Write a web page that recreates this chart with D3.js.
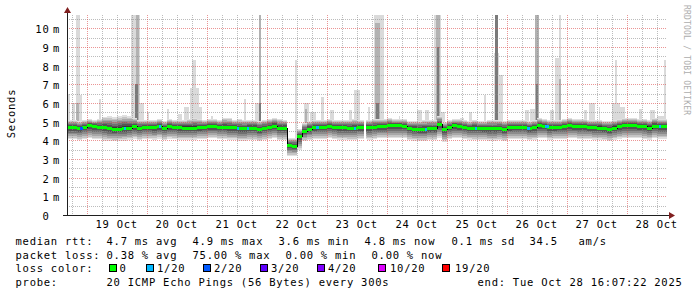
<!DOCTYPE html>
<html>
<head>
<meta charset="utf-8">
<script src="https://cdn.jsdelivr.net/npm/d3@7"></script>
<style>
  body { margin: 0; background: #fff; }
  svg text { font-family: "DejaVu Sans Mono", monospace; font-size: 10.5px; letter-spacing: 0.75px; fill: #000; }
</style>
</head>
<body>
<svg id="chart" width="697" height="297"></svg>
<script>
// time window: 10 days ending Tue Oct 28 16:07:22 2025, 2h buckets
const start = Date.UTC(2025, 9, 18, 16, 7, 22);
const spanHours = 240;
const bucketHours = 2;

// median rtt per bucket (ms)
const median = [
  4.69,4.69,4.64,4.72,4.80,4.75,4.72,4.70,4.64,4.60,4.62,4.66,4.68,4.76,4.66,4.72,4.72,4.72,4.78,4.66,4.76,4.72,4.70,4.68,4.68,4.68,4.70,4.72,4.76,4.76,
  4.72,4.72,4.69,4.69,4.64,4.64,4.67,4.67,4.60,4.66,4.72,4.78,4.67,4.67,3.74,3.72,4.25,4.50,4.62,4.70,4.72,4.72,4.78,4.72,4.69,4.69,4.66,4.66,4.70,4.70,
  4.69,4.72,4.74,4.74,4.80,4.80,4.80,4.78,4.66,4.62,4.60,4.60,4.64,4.64,4.88,4.58,4.72,4.80,4.76,4.72,4.68,4.67,4.66,4.64,4.64,4.64,4.66,4.60,4.70,4.72,
  4.72,4.72,4.64,4.69,4.80,4.78,4.69,4.70,4.72,4.74,4.80,4.76,4.74,4.74,4.70,4.69,4.68,4.64,4.60,4.68,4.76,4.80,4.80,4.80,4.76,4.74,4.68,4.78,4.76,4.76
];
// lowest / highest ping of the smoke per bucket (ms)
const smokeLo = [
  4.05,4.05,4.0,4.05,4.1,4.05,4.05,3.95,3.95,3.95,3.95,3.95,4.0,4.05,4.0,4.05,4.05,4.0,4.05,4.0,4.05,4.05,4.0,4.0,4.0,4.0,4.05,4.05,4.1,4.1,
  4.05,4.05,4.0,4.0,3.95,3.95,4.0,4.0,3.95,4.0,4.05,4.1,4.0,4.0,3.15,3.15,3.5,3.95,4.0,4.05,4.05,4.05,4.1,4.05,4.0,4.0,4.0,4.0,4.05,4.05,
  4.0,4.05,4.1,4.1,4.1,4.1,4.1,4.1,4.0,3.95,3.95,3.95,4.0,4.0,4.1,3.9,4.05,4.1,4.1,4.05,4.0,4.0,4.0,4.0,3.95,3.95,4.0,3.95,4.05,4.05,
  4.05,4.05,4.0,4.0,4.1,4.1,4.0,4.05,4.05,4.05,4.1,4.1,4.05,4.05,4.05,4.0,4.0,4.0,3.95,4.0,4.05,4.1,4.1,4.1,4.1,4.05,4.0,4.1,4.05,4.05
];
const smokeHi = [
  5.1,5.1,5.05,5.1,5.15,5.1,5.15,5.25,5.3,5.25,5.3,5.35,5.3,5.2,5.1,5.1,5.1,5.1,5.15,5.05,5.15,5.1,5.1,5.1,5.15,5.2,5.15,5.1,5.15,5.15,
  5.1,5.2,5.2,5.1,5.15,5.1,5.1,5.1,5.05,5.1,5.15,5.2,5.15,5.1,4.1,4.1,4.6,4.95,5.05,5.1,5.1,5.1,5.15,5.1,5.1,5.1,5.1,5.15,5.1,5.1,
  5.1,5.15,5.15,5.15,5.2,5.15,5.15,5.15,5.05,5.05,5.05,5.1,5.1,5.1,5.3,5.0,5.1,5.15,5.15,5.1,5.05,5.1,5.05,5.05,5.1,5.1,5.1,5.05,5.1,5.1,
  5.1,5.1,5.05,5.1,5.2,5.15,5.1,5.1,5.1,5.15,5.2,5.15,5.15,5.15,5.1,5.1,5.1,5.05,5.05,5.1,5.15,5.2,5.2,5.2,5.15,5.15,5.1,5.2,5.15,5.15
];
// outlier pings: [hours from start, duration h, top ms, shade 0 light .. 2 dark]
const spikes = [
  [0,1.2,6.5,0],[2,1.2,6.0,0],[3.4,1.6,11,0],[3.6,1.2,6.0,1],[5.2,0.6,6.4,0],[12.8,0.8,6.2,0],
  [25.6,3.6,11,0],[27.6,1.2,11,1],[27.2,1.2,7.0,2],[29.2,1.6,6.0,0],[32,0.8,5.5,0],[40,0.8,5.7,0],
  [44.4,1.6,5.4,0],[46.8,2.0,5.8,0],[49.2,3.6,6.8,0],[50,1.6,8.3,0],[52.8,1.2,5.8,0],[57.6,0.8,5.3,0],
  [70.8,0.8,6.2,0],[75.2,1.6,6.0,0],[76.8,0.8,11,1],[76.8,0.8,6.0,2],[91.2,0.8,8.3,0],[94.8,2.0,6.0,0],
  [95.2,0.8,5.7,1],[97.2,2.4,5.5,0],[101.6,1.2,6.3,0],[105.2,1.6,5.6,0],[112.8,1.2,5.6,0],[114.8,2.4,6.7,0],
  [120.4,0.8,5.8,0],[122.8,4.0,11,0],[123.2,2.0,10.3,1],[123.6,1.2,6.0,2],[132.8,0.4,5.3,0],[140,2.0,5.6,0],
  [143.2,1.6,5.6,0],[146.8,2.8,11,0],[147.6,1.6,11,1],[148,0.8,9,2],[149.6,1.6,5.5,0],[157.2,1.6,5.2,0],
  [160.8,1.2,5.5,0],[166.8,0.8,6.4,0],[170.8,2.0,8.7,0],[171.2,1.2,11,2],[172.8,1.6,7.5,0],[183.2,1.6,5.6,0],
  [185.2,2.0,5.7,0],[187.2,1.6,11,1],[187.6,0.8,7.0,2],[193.2,1.6,5.6,0],[195.2,1.6,8.4,0],[196.8,0.8,11,0],
  [196.8,0.8,7.3,1],[206.8,1.2,5.6,0],[208.8,2.4,6.0,0],[212.8,0.4,5.8,0],[218,3.2,6.0,0],[219.2,0.8,8.3,0],
  [221.2,2.0,5.8,0],[228.8,1.2,5.7,0],[233.2,2.0,5.6,0],[236,2.8,5.3,0],[238.8,0.8,8.3,0]
];
// packet loss events
const lossHours = [5.2, 22.8, 36.8, 68, 72, 99.6, 114.8, 143.2, 163.2, 184, 191.2, 236.8];
const lossDur   = [1.2, 0.8, 0.8, 0.8, 0.8, 1.0, 0.8, 0.8, 0.8, 1.0, 1.6, 0.8];
const lossCount = [2, 1, 1, 1, 1, 1, 1, 1, 1, 1, 1, 1];
// missing data: [hours from start, duration h]
const gaps = [[118.8, 0.8]];

const yTicks = [0,1,2,3,4,5,6,7,8,9,10];
const lossLabels = ["0","1/20","2/20","3/20","4/20","10/20","19/20"];
const lossSteps  = [0, 1, 2, 3, 4, 10, 19];
const lossColors = ["#00ff00","#00b8ff","#0059ff","#5e00ff","#7e00ff","#dd00ff","#ff0000"];

const legendRtt  = [[16,"median rtt:"],[107,"4.7 ms avg"],[193,"4.9 ms max"],[279,"3.6 ms min"],[365,"4.8 ms now"],[452,"0.1 ms sd"],[530,"34.5"],[579,"am/s"]];
const legendLoss = [[16,"packet loss:"],[107,"0.38 % avg"],[193,"75.00 % max"],[286,"0.00 % min"],[372,"0.00 % now"]];
const legendProbe = [[16,"probe:"],[107,"20 ICMP Echo Pings (56 Bytes) every 300s"],[478,"end: Tue Oct 28 16:07:22 2025"]];

const svg = d3.select("#chart");
const hr = h => new Date(start + h * 3600e3);
const x = d3.scaleUtc().domain([hr(0), hr(spanHours)]).range([67, 667]);
const y = d3.scaleLinear().domain([0, 10.71]).range([215, 15]);

svg.append("clipPath").attr("id", "clip")
  .append("rect").attr("x", 67).attr("y", 15).attr("width", 600).attr("height", 200);
const plot = svg.append("g").attr("clip-path", "url(#clip)").attr("shape-rendering", "crispEdges");

const buckets = median.map((m, i) => ({
  t0: hr(i * bucketHours), t1: hr((i + 1) * bucketHours), med: m, lo: smokeLo[i], hi: smokeHi[i]
}));
const medAt = h => median[Math.min(median.length - 1, Math.floor(h / bucketHours))];

// outliers
const shades = ["#dadada", "#b2b2b2", "#7a7a7a"];
plot.append("g").selectAll("rect").data(spikes).join("rect")
  .attr("x", d => x(hr(d[0])))
  .attr("width", d => x(hr(d[0] + d[1])) - x(hr(d[0])))
  .attr("y", d => y(d[2]))
  .attr("height", d => y(medAt(d[0])) - y(d[2]))
  .attr("fill", d => shades[d[3]]);

// smoke, darker towards the median
const layers = 7;
const smokeColor = d3.interpolateRgb("#e0e0e0", "#383838");
for (let k = 0; k < layers; k++) {
  const f = 1 - k / layers;
  plot.append("g").selectAll("rect").data(buckets).join("rect")
    .attr("x", d => x(d.t0))
    .attr("width", d => x(d.t1) - x(d.t0))
    .attr("y", d => y(d.med + (d.hi - d.med) * f))
    .attr("height", d => y(d.med - (d.med - d.lo) * f) - y(d.med + (d.hi - d.med) * f))
    .attr("fill", smokeColor(k / (layers - 1)));
}

// gaps
plot.append("g").selectAll("rect").data(gaps).join("rect")
  .attr("x", d => x(hr(d[0])))
  .attr("width", d => x(hr(d[0] + d[1])) - x(hr(d[0])))
  .attr("y", 15).attr("height", 200).attr("fill", "#fff");

// grid
const grid = svg.append("g").attr("shape-rendering", "crispEdges").attr("stroke-dasharray", "1,1");
const minorY = d3.range(0.5, 10.6, 1);
const majorY = yTicks.slice(1);
const px = v => Math.round(v) + 0.5;
grid.selectAll("line.my").data(minorY).join("line")
  .attr("x1", 67).attr("x2", 667).attr("y1", d => px(y(d))).attr("y2", d => px(y(d)))
  .attr("stroke", "rgba(143,143,143,0.6)");
const days = d3.utcDay.range(hr(0), hr(spanHours));
const sixHours = d3.utcHour.every(6).range(hr(0), hr(spanHours)).filter(d => d.getUTCHours() !== 0);
grid.selectAll("line.mx").data(sixHours).join("line")
  .attr("y1", 15).attr("y2", 215).attr("x1", d => px(x(d))).attr("x2", d => px(x(d)))
  .attr("stroke", "rgba(143,143,143,0.6)");
grid.selectAll("line.My").data(majorY).join("line")
  .attr("x1", 67).attr("x2", 667).attr("y1", d => px(y(d))).attr("y2", d => px(y(d)))
  .attr("stroke", "rgba(222,79,79,0.6)");
grid.selectAll("line.Mx").data(days).join("line")
  .attr("y1", 15).attr("y2", 215).attr("x1", d => px(x(d))).attr("x2", d => px(x(d)))
  .attr("stroke", "rgba(222,79,79,0.6)");

// median line
const medLine = svg.append("g").attr("clip-path", "url(#clip)").attr("shape-rendering", "crispEdges");
const stepPts = buckets.map(d => [d.t0, d.med]).concat([[hr(spanHours), median[median.length - 1]]]);
medLine.append("path")
  .attr("d", d3.line().x(d => x(d[0])).y(d => Math.round(y(d[1])) + 0.5).curve(d3.curveStepAfter)(stepPts))
  .attr("fill", "none").attr("stroke", "#000").attr("stroke-width", 1);
medLine.append("g").selectAll("rect").data(buckets).join("rect")
  .attr("x", d => x(d.t0)).attr("width", d => x(d.t1) - x(d.t0))
  .attr("y", d => Math.round(y(d.med)) - 1).attr("height", 3)
  .attr("fill", lossColors[0]);
medLine.append("g").selectAll("rect").data(lossHours).join("rect")
  .attr("x", (h) => x(hr(h)))
  .attr("width", (h, i) => x(hr(h + lossDur[i])) - x(hr(h)))
  .attr("y", h => Math.round(y(medAt(h))) - 1).attr("height", 3)
  .attr("fill", (h, i) => lossColors[lossSteps.indexOf(lossCount[i])]);

// gaps in the median
medLine.append("g").selectAll("rect").data(gaps).join("rect")
  .attr("x", d => x(hr(d[0])))
  .attr("width", d => x(hr(d[0] + d[1])) - x(hr(d[0])))
  .attr("y", 100).attr("height", 60).attr("fill", "#fff");

// axes
svg.append("line").attr("x1", 67.5).attr("x2", 67.5).attr("y1", 216).attr("y2", 11)
  .attr("stroke", "#1f1f1f").attr("shape-rendering", "crispEdges");
svg.append("line").attr("x1", 63).attr("x2", 671).attr("y1", 215.5).attr("y2", 215.5)
  .attr("stroke", "#1f1f1f").attr("shape-rendering", "crispEdges");
svg.append("path").attr("d", "M64,13L71,13L67.5,7Z").attr("fill", "#801f1f");
svg.append("path").attr("d", "M669,212L669,219L675,215.5Z").attr("fill", "#801f1f");

// y labels
const yl = svg.append("g");
yl.selectAll("text.n").data(yTicks).join("text")
  .attr("x", 49.5).attr("y", d => Math.round(y(d)) + 4.5).attr("text-anchor", "end")
  .text(d => d);
yl.selectAll("text.u").data(yTicks.filter(d => d > 0)).join("text")
  .attr("x", 53).attr("y", d => Math.round(y(d)) + 4.5).text("m");

// x labels at noon
const noons = days.map(d => d3.utcHour.offset(d, 12)).filter(d => d < hr(spanHours));
svg.append("g").selectAll("text").data(noons).join("text")
  .attr("x", d => x(d)).attr("y", 227.5).attr("text-anchor", "middle")
  .text(d3.utcFormat("%d Oct"));

// titles
svg.append("text").attr("transform", "translate(15,113.5) rotate(-90)")
  .attr("text-anchor", "middle").text("Seconds");
svg.append("text").attr("transform", "translate(684,5) rotate(90)")
  .style("font-size", "8px").style("letter-spacing", "0.2px").style("fill", "#adadad")
  .text("RRDTOOL / TOBI OETIKER");

// legend
const lg = svg.append("g");
const legendRow = (items, yy) => lg.append("g").selectAll("text").data(items).join("text")
  .attr("x", d => d[0] - 0.5).attr("y", yy).attr("xml:space", "preserve").text(d => d[1]);
legendRow(legendRtt, 244.5);
legendRow(legendLoss, 258.5);
legendRow([[16, "loss color:"]], 272.3);
legendRow(legendProbe, 286);
const sqX = [109, 146, 203, 260, 317, 378, 442];
lg.append("g").selectAll("rect").data(lossColors).join("rect")
  .attr("x", (c, i) => sqX[i] + 0.5).attr("y", 264.5).attr("width", 7).attr("height", 7)
  .attr("fill", c => c).attr("stroke", "#000").attr("shape-rendering", "crispEdges");
const sqLabelX = [120.5, 158, 215, 272, 329, 391, 456];
lg.append("g").selectAll("text").data(lossLabels).join("text")
  .attr("x", (t, i) => sqLabelX[i] - 1).attr("y", 272.3).text(t => t);
</script>
</body>
</html>
